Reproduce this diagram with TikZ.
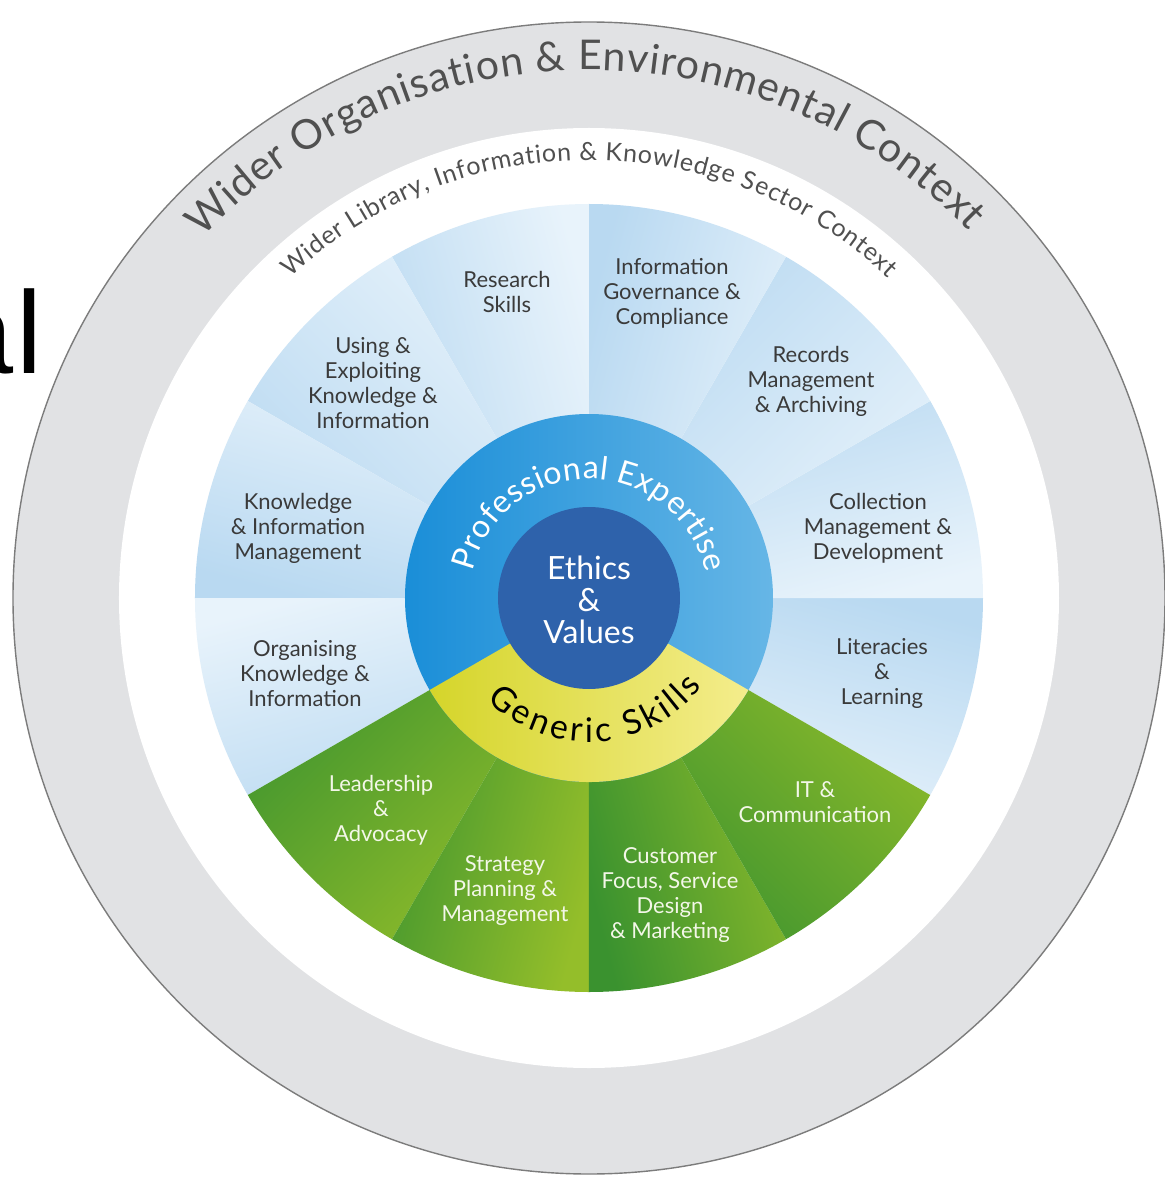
\documentclass[tikz,border=0pt]{standalone}
\usepackage{fontspec}
\setmainfont{Lato}
\newfontfamily\alfont{Liberation Sans}
\usetikzlibrary{decorations.text}
\definecolor{ringgrey}{HTML}{E1E2E4}
\definecolor{ringline}{HTML}{7C7C7C}
\definecolor{bluedark}{HTML}{B9D9F1}
\definecolor{bluelight}{HTML}{E8F3FB}
\definecolor{greendark}{HTML}{3A922F}
\definecolor{greenlight}{HTML}{94BE2A}
\definecolor{profleft}{HTML}{1A8ED8}
\definecolor{profright}{HTML}{66B6E6}
\definecolor{yelleft}{HTML}{D5D52A}
\definecolor{yelright}{HTML}{F4ED8C}
\definecolor{ethicsblue}{HTML}{2E62AB}
\definecolor{segtext}{HTML}{3A3A3A}
\definecolor{greentext}{HTML}{F3F7E8}
\definecolor{arctext}{HTML}{505050}
\def\outerarcfont{\fontsize{20.5}{24}\selectfont\color{arctext}}
\def\innerarcfont{\fontsize{12.5}{15}\selectfont\color{arctext}}
\def\proffont{\fontsize{16}{19}\selectfont\color{white}}
\def\genfont{\fontsize{17}{20}\selectfont\color{black}}
\tikzset{
  seglabel/.style={align=center, inner sep=0pt, text=segtext,
    font=\fontsize{11}{12.5}\selectfont},
  greenlabel/.style={seglabel, text=greentext},
  bluewedge/.style={top color=bluedark, bottom color=bluelight, shading angle=#1},
  greenwedge/.style={top color=greenlight, bottom color=greendark, shading angle=#1},
}
\begin{document}
\begin{tikzpicture}[x=0.5pt,y=0.5pt]
\useasboundingbox (-589,-581) rectangle (576,598);
\fill[white] (-589,-581) rectangle (576,598);
% outer grey ring
\fill[ringgrey] (0,0) circle[radius=576];
\draw[ringline, line width=0.7pt] (0,0) circle[radius=576];
\fill[white] (0,0) circle[radius=470];
% blue wedges
\foreach \a [evaluate=\a as \b using \a+15] in {-30,0,...,180}{
  \path[bluewedge=\b] (0,0) -- (\a:394) arc[start angle=\a, end angle=\a+30, radius=394] -- cycle;
}
% green wedges
\foreach \a [evaluate=\a as \b using \a+15] in {210,240,270,300}{
  \path[greenwedge=\b] (0,0) -- (\a:394) arc[start angle=\a, end angle=\a+30, radius=394] -- cycle;
}
% professional expertise ring
\path[left color=profleft, right color=profright] (0,0) circle[radius=184];
% generic skills sector
\path[left color=yelleft, right color=yelright] (0,0) -- (210:184) arc[start angle=210, end angle=330, radius=184] -- cycle;
% ethics
\fill[ethicsblue] (0,0) circle[radius=91];
\node[align=center, inner sep=0pt, text=white, font=\fontsize{16}{16}\selectfont] (ethics) at (0,-2) {Ethics\\\&\\Values};
% arc texts
\path[decorate, decoration={text along path, text align={fit to path},
  text={|\outerarcfont|Wider Organisation {\&} Environmental Context}}]
  (137:528) arc[start angle=137, end angle=44, radius=528];
\path[decorate, decoration={text along path, text align={fit to path},
  text={|\innerarcfont|Wider Library, Information {\&} Knowledge Sector Context}}]
  (133:438) arc[start angle=133, end angle=47, radius=438];
\path[decorate, decoration={text along path, text align={fit to path},
  text={|\proffont|Professional Expertise}}]
  (167:119) arc[start angle=167, end angle=12, radius=119];
\path[decorate, decoration={text along path, text align={fit to path},
  text={|\genfont|Generic Skills}}]
  (225:144) arc[start angle=225, end angle=322, radius=144];
% segment labels
\node[seglabel] (research) at (-82,306) {Research\\Skills};
\node[seglabel] (govern) at (83,305) {Information\\Governance \&\\Compliance};
\node[seglabel] (records) at (222,217) {Records\\Management\\\& Archiving};
\node[seglabel] (collect) at (289,70) {Collection\\Management \&\\Development};
\node[seglabel] (literac) at (293,-75) {Literacies\\\&\\Learning};
\node[greenlabel] (itcomm) at (226,-204) {IT \&\\Communication};
\node[greenlabel] (customer) at (81,-297) {Customer\\Focus, Service\\Design\\\& Marketing};
\node[greenlabel] (strategy) at (-84,-293) {Strategy\\Planning \&\\Management};
\node[greenlabel] (leader) at (-208,-212) {Leadership\\\&\\Advocacy};
\node[seglabel] (organise) at (-284,-76) {Organising\\Knowledge \&\\Information};
\node[seglabel] (kim) at (-291,70) {Knowledge\\\& Information\\Management};
\node[seglabel] (using) at (-216,215) {Using \&\\Exploiting\\Knowledge \&\\Information};
% cut-off title fragment
\node[anchor=base east, inner sep=0pt, font=\alfont\fontsize{58.5}{60}\selectfont] (al) at (-546,225) {a\kern1.5pt l};
\end{tikzpicture}
\end{document}
